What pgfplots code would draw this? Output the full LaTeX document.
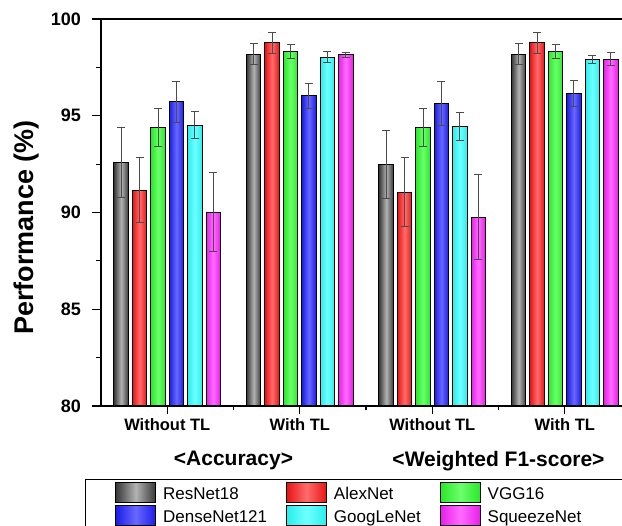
\documentclass[border=0pt]{standalone}
\usepackage{pgfplots}
\pgfplotsset{compat=1.18}
\usepackage{fontspec}
\setmainfont{Liberation Sans}
\pgfplotsset{
  rn/.style={left color=black!78, right color=black!78, middle color=black!30},
  an/.style={left color={rgb,255:red,232;green,20;blue,20}, right color={rgb,255:red,232;green,20;blue,20}, middle color={rgb,255:red,255;green,108;blue,108}},
  vg/.style={left color={rgb,255:red,40;green,232;blue,40}, right color={rgb,255:red,40;green,232;blue,40}, middle color={rgb,255:red,108;green,255;blue,108}},
  dn/.style={left color={rgb,255:red,28;green,28;blue,232}, right color={rgb,255:red,28;green,28;blue,232}, middle color={rgb,255:red,104;green,104;blue,255}},
  gn/.style={left color={rgb,255:red,40;green,238;blue,238}, right color={rgb,255:red,40;green,238;blue,238}, middle color={rgb,255:red,112;green,255;blue,255}},
  sn/.style={left color={rgb,255:red,232;green,30;blue,232}, right color={rgb,255:red,232;green,30;blue,232}, middle color={rgb,255:red,255;green,108;blue,255}},
}
% one bar: style, x position, value, error
\newcommand{\onebar}[4]{\addplot[ybar, bar width=14.5pt, bar shift=0pt, #1, forget plot] coordinates {(#2,#3) +- (0,#4)};}
\begin{document}
\begin{tikzpicture}
\begin{axis}[
  at={(0pt,0pt)}, anchor=south west,
  scale only axis, width=530pt, height=387pt,
  ymin=80, ymax=100, xmin=-0.5, xmax=3.5,
  ytick={80,85,90,95,100},
  minor ytick={82.5,87.5,92.5,97.5},
  xtick={0,1,2,3},
  xticklabels={Without TL, With TL, Without TL, With TL},
  minor xtick={0.5,1.5,2.5},
  xtick pos=left, ytick pos=left,
  tick align=outside,
  major tick length=8.5pt, minor tick length=4.5pt,
  axis line style={line width=1.1pt},
  every tick/.style={black, line width=1.1pt},
  /pgf/number format/assume math mode=true,
  yticklabel style={font=\fontsize{18}{18}\selectfont\bfseries, xshift=-8pt},
  xticklabel style={font=\fontsize{16.5}{16.5}\selectfont\bfseries, yshift=-1pt},
  ylabel={Performance (\%)},
  ylabel style={font=\fontsize{27}{27}\selectfont\bfseries, yshift=5pt, xshift=-15pt},
  clip=false,
  every axis plot/.append style={draw=black, line width=1pt,
    error bars/y dir=both, error bars/y explicit,
    error bars/error bar style={black!70, line width=1pt},
    error bars/error mark options={rotate=90, black!70, mark size=4pt, line width=1pt}},
  legend columns=3,
  legend image code/.code={\draw[#1, draw=black, line width=0.8pt] (0pt,-8.4pt) rectangle (40pt,11.6pt);},
  legend style={at={(0,0)}, anchor=north west, xshift=-16pt, yshift=-73pt,
    draw=black, line width=0.8pt, font=\fontsize{17}{17}\selectfont,
    inner xsep=30pt, inner ysep=3pt, row sep=2pt,
    cells={anchor=west, inner sep=0pt, text height=12.5pt, text depth=3.5pt},
    /tikz/every odd column/.append style={column sep=5pt},
    /tikz/every even column/.append style={column sep=17pt}},
]
\addlegendimage{rn}\addlegendentry{ResNet18}
\addlegendimage{an}\addlegendentry{AlexNet}
\addlegendimage{vg}\addlegendentry{\makebox[120pt][l]{VGG16}}
\addlegendimage{dn}\addlegendentry{DenseNet121}
\addlegendimage{gn}\addlegendentry{GoogLeNet}
\addlegendimage{sn}\addlegendentry{\makebox[120pt][l]{SqueezeNet}}
% ResNet18
\onebar{rn}{-0.3472}{92.58}{1.82}
\onebar{rn}{0.6528}{98.19}{0.52}
\onebar{rn}{1.6528}{92.48}{1.76}
\onebar{rn}{2.6528}{98.19}{0.52}
% AlexNet
\onebar{an}{-0.2083}{91.16}{1.66}
\onebar{an}{0.7917}{98.76}{0.52}
\onebar{an}{1.7917}{91.04}{1.78}
\onebar{an}{2.7917}{98.76}{0.52}
% VGG16
\onebar{vg}{-0.0694}{94.41}{0.98}
\onebar{vg}{0.9306}{98.33}{0.36}
\onebar{vg}{1.9306}{94.39}{0.98}
\onebar{vg}{2.9306}{98.33}{0.36}
% DenseNet121
\onebar{dn}{0.0694}{95.72}{1.05}
\onebar{dn}{1.0694}{96.04}{0.65}
\onebar{dn}{2.0694}{95.65}{1.13}
\onebar{dn}{3.0694}{96.15}{0.65}
% GoogLeNet
\onebar{gn}{0.2083}{94.51}{0.69}
\onebar{gn}{1.2083}{98.02}{0.29}
\onebar{gn}{2.2083}{94.44}{0.72}
\onebar{gn}{3.2083}{97.92}{0.21}
% SqueezeNet
\onebar{sn}{0.3472}{90.02}{2.03}
\onebar{sn}{1.3472}{98.14}{0.15}
\onebar{sn}{2.3472}{89.75}{2.20}
\onebar{sn}{3.3472}{97.92}{0.33}
\node[anchor=north, inner sep=0pt, font=\fontsize{21}{21}\selectfont\bfseries] at (axis cs:0.5,80) [yshift=-45pt] {<Accuracy>};
\node[anchor=north, inner sep=0pt, font=\fontsize{21}{21}\selectfont\bfseries] at (axis cs:2.5,80) [yshift=-45pt] {<Weighted F1-score>};
\end{axis}
\pgfresetboundingbox
\path (-101pt,-120pt) rectangle (521pt,406pt);
\end{tikzpicture}
\end{document}
